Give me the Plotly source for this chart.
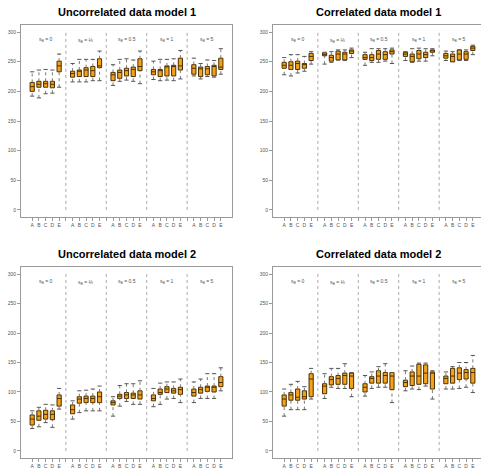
import plotly.graph_objects as go

# ---------------- data ----------------
groups = ["0", "⅛", "0.5", "1", "5"]
methods = ["A", "B", "C", "D", "E"]
titles = ["Uncorrelated data model 1", "Correlated data model 1",
          "Uncorrelated data model 2", "Correlated data model 2"]

um1_lo = [192,189,196,197,207, 216,216,216,218,218, 210,217,219,217,213, 220,218,219,218,221, 226,221,225,224,229]
um1_q1 = [200,207,207,206,233, 224,225,225,225,240, 218,222,226,225,235, 228,225,226,226,236, 229,225,228,226,237]
um1_med = [208,212,213,212,243, 230,234,236,235,243, 228,232,235,237,242, 233,235,242,242,243, 239,238,238,242,241]
um1_q3 = [215,217,217,217,251, 234,236,240,242,255, 232,236,239,241,255, 237,237,243,244,256, 245,241,242,244,256]
um1_hi = [233,236,237,236,263, 247,254,254,254,268, 245,254,255,253,268, 251,254,254,255,269, 256,247,253,252,272]

cm1_lo = [228,226,231,234,246, 246,249,253,252,257, 244,249,249,251,247, 252,249,251,251,260, 252,250,252,252,262]
cm1_q1 = [239,237,237,239,252, 260,251,253,253,264, 254,252,254,254,263, 259,250,255,257,266, 256,250,253,254,269]
cm1_med = [244,244,247,245,259, 262,257,263,263,268, 257,257,263,262,267, 263,259,263,262,269, 260,259,263,263,273]
cm1_q3 = [249,250,251,247,264, 265,261,268,266,270, 262,262,269,267,270, 266,263,269,266,270, 264,263,270,267,276]
cm1_hi = [257,262,262,259,267, 266,267,270,270,273, 266,272,272,272,273, 267,272,273,272,272, 268,267,270,270,278]

um2_lo = [38,41,48,40,71, 54,65,68,68,68, 59,76,84,79,79, 75,79,88,89,82, 82,89,89,89,102]
um2_q1 = [44,52,54,53,76, 63,81,82,82,82, 78,89,89,89,88, 85,96,99,98,96, 93,98,101,100,109]
um2_med = [54,59,62,62,89, 70,88,89,89,92, 82,93,95,95,95, 89,99,105,102,104, 99,104,108,108,116]
um2_q3 = [61,68,69,68,95, 78,92,93,93,100, 85,96,99,98,102, 95,105,109,106,108, 105,108,110,110,126]
um2_hi = [68,74,79,78,106, 85,102,103,105,110, 92,111,114,114,119, 106,115,117,117,122, 117,122,131,131,141]

cm2_lo = [59,70,70,70,88, 89,108,106,106,92, 93,106,108,108,82, 102,105,104,110,88, 105,105,106,108,99]
cm2_q1 = [76,86,86,88,92, 97,112,113,113,106, 100,115,115,115,104, 109,111,113,114,105, 114,115,121,122,115]
cm2_med = [88,95,91,92,122, 110,121,123,128,127, 108,123,127,128,127, 116,127,127,132,132, 123,127,132,133,133]
cm2_q3 = [95,99,105,102,131, 114,126,128,132,132, 114,126,136,133,133, 120,134,147,146,134, 127,140,141,138,140]
cm2_hi = [105,113,118,109,140, 131,140,140,148,133, 128,134,143,148,133, 136,144,149,149,136, 134,143,150,150,162]

y_ticks = [0, 50, 100, 150, 200, 250, 300]

panels = [
    (um1_lo, um1_q1, um1_med, um1_q3, um1_hi),
    (cm1_lo, cm1_q1, cm1_med, cm1_q3, cm1_hi),
    (um2_lo, um2_q1, um2_med, um2_q3, um2_hi),
    (cm2_lo, cm2_q1, cm2_med, cm2_q3, cm2_hi),
]

# ---------------- layout geometry ----------------
W, H = 481, 472
FONT = "Liberation Sans, Arial, sans-serif"
BOX_FILL = "#F5A11C"
BOX_LINE = "#4a3000"
GREY = "#9a9a9a"

positions = [g * 6 + m + 1 for g in range(len(groups)) for m in range(len(methods))]
dividers = [g * 6 for g in range(1, len(groups))]
centers = [g * 6 + 3 for g in range(len(groups))]
pos_labels = [methods[m] for g in range(len(groups)) for m in range(len(methods))]

rects = [(21, 232, 25, 217), (273, 484, 25, 217),
         (21, 232, 267, 458), (273, 484, 267, 458)]
x0, x1 = -0.66, 30.66

fig = go.Figure()
annotations = []

for i, (lo, q1, med, q3, hi) in enumerate(panels):
    l, r, t, b = rects[i]
    xa = "x" if i == 0 else f"x{i+1}"
    ya = "y" if i == 0 else f"y{i+1}"
    # the right-hand panels extend past the picture's edge: clip range
    vis_r = min(r, W)
    xr = [x0, x0 + (x1 - x0) * (vis_r - l) / (r - l)]

    dx, dy = [], []
    for d in dividers:
        dx += [d, d, None]
        dy += [0, 300, None]
    fig.add_trace(go.Scatter(x=dx, y=dy, mode="lines", xaxis=xa, yaxis=ya,
                             line=dict(color="#aaaaaa", width=1, dash="dot"),
                             showlegend=False, hoverinfo="skip"))
    wx, wy = [], []
    for p, a, b1, c, d in zip(positions, lo, q1, q3, hi):
        wx += [p, p, None, p, p, None]
        wy += [a, b1, None, c, d, None]
    fig.add_trace(go.Scatter(x=wx, y=wy, mode="lines", xaxis=xa, yaxis=ya,
                             line=dict(color="#777777", width=1, dash="dot"),
                             showlegend=False, hoverinfo="skip"))
    fig.add_trace(go.Scatter(x=positions + positions, y=lo + hi, mode="markers",
                             xaxis=xa, yaxis=ya,
                             marker=dict(symbol="line-ew", size=3,
                                         line=dict(color="#555555", width=1)),
                             showlegend=False, hoverinfo="skip"))
    fig.add_trace(go.Box(x=positions, q1=q1, median=med, q3=q3,
                         lowerfence=q1, upperfence=q3, xaxis=xa, yaxis=ya,
                         width=0.62, whiskerwidth=0,
                         fillcolor=BOX_FILL, line=dict(color=BOX_LINE, width=1),
                         showlegend=False, boxpoints=False))

    dom_x = [l / W, vis_r / W]
    dom_y = [1 - b / H, 1 - t / H]
    mirror_y = r <= W
    fig.layout[("xaxis" if i == 0 else f"xaxis{i+1}")] = dict(
        domain=dom_x, range=xr, anchor=ya, tickmode="array",
        tickvals=positions, ticktext=pos_labels, ticks="outside", ticklen=3,
        tickcolor=GREY, showline=True, linecolor=GREY, mirror=True,
        minor=dict(tickmode="array", tickvals=dividers, ticks="outside",
                   ticklen=3, tickcolor=GREY),
        showgrid=False, zeroline=False, tickfont=dict(size=5, color="#555555"),
    )
    fig.layout[("yaxis" if i == 0 else f"yaxis{i+1}")] = dict(
        domain=dom_y, range=[-12, 312], anchor=xa, tickmode="array",
        tickvals=y_ticks, ticks="outside", ticklen=3, tickcolor=GREY,
        showline=True, linecolor=GREY, mirror=mirror_y, showgrid=False,
        zeroline=False, tickfont=dict(size=5, color="#555555"),
    )
    cx = (l + r) / 2 / W
    annotations.append(dict(text=f"<b>{titles[i]}</b>", x=cx, y=1 - (t - 13) / H,
                            xref="paper", yref="paper", showarrow=False,
                            font=dict(size=11, color="#000000", family=FONT),
                            xanchor="center", yanchor="middle"))
    for g, c in enumerate(centers):
        yv = 288 if g != 1 else 285
        annotations.append(dict(text=f"s<sub>B</sub> = {groups[g]}", x=c, y=yv,
                                xref=xa, yref=ya, showarrow=False,
                                font=dict(size=5, color="#555555", family=FONT)))

fig.update_layout(width=W, height=H, margin=dict(l=0, r=0, t=0, b=0),
                  paper_bgcolor="white", plot_bgcolor="white",
                  font=dict(family=FONT), annotations=annotations)

fig.write_html("out.html", config={"displayModeBar": False},
               post_script="document.body.style.margin='0px';document.body.style.overflow='hidden';")
